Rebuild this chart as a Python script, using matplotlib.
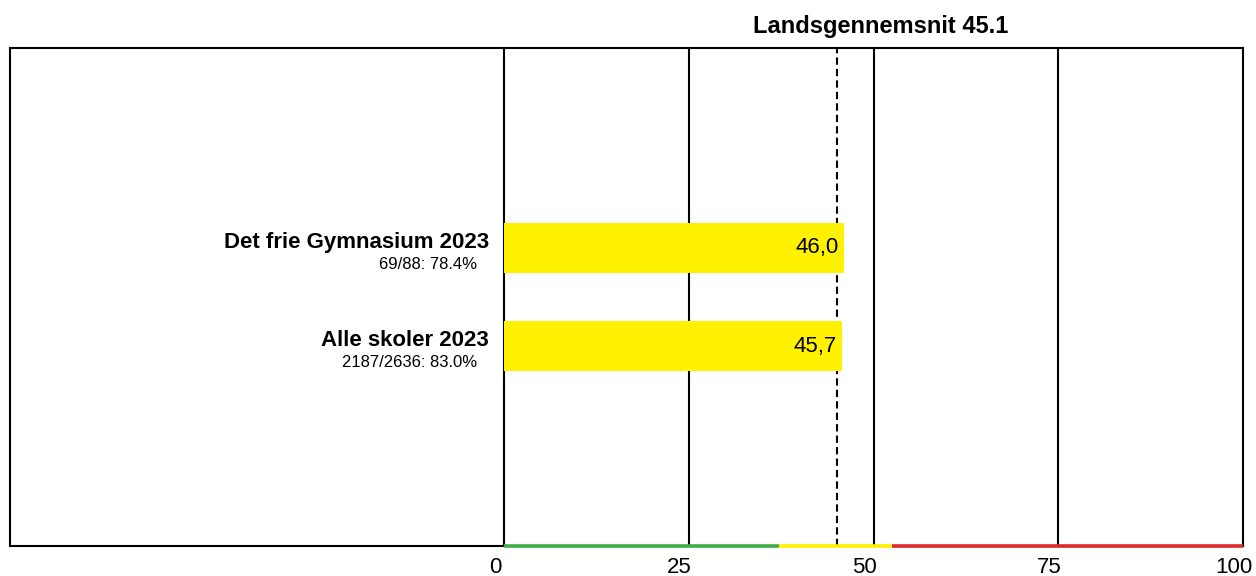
import matplotlib
matplotlib.use("Agg")
import matplotlib.pyplot as plt
from matplotlib.transforms import ScaledTranslation

plt.rcParams["font.family"] = ["Liberation Sans", "DejaVu Sans"]

# data
schools = ["Det frie Gymnasium 2023", "Alle skoler 2023"]
subtitles = ["69/88: 78.4%", "2187/2636: 83.0%"]
scores = [46.0, 45.7]
national_avg = 45.1
x_ticks = [0, 25, 50, 75, 100]
# colour bands along the bottom axis
band_edges = [0, 37.2, 52.5, 100]
band_colors = ["#3fae49", "#fff200", "#dd2a2a"]

BAR_COLOR = "#fff200"

fig = plt.figure(figsize=(12.56, 5.76), dpi=100)
W, H = 1256, 576
# axes box spans label area too (frame from x=10 to x=1243)
ax = fig.add_axes([10 / W, (H - 546) / H, 1233 / W, 498 / H])

px_per_unit = 739 / 100  # 0 at x=504, 100 at x=1243
x_left = -(504 - 10) / px_per_unit
ax.set_xlim(x_left, 100)
ax.set_ylim(3.03, -2.03)

# vertical grid lines
for t in x_ticks[:-1]:
    ax.axvline(t, color="black", lw=1.5, zorder=1)

# national average dashed line (drawn behind the bars)
ax.axvline(national_avg, color="black", lw=1.5, linestyle=(0, (3.5, 2)), zorder=1.5)

# bars
positions = list(range(len(schools)))
ax.barh(positions, scores, height=0.51, color=BAR_COLOR, zorder=2)

# labels
for pos, name, sub, val in zip(positions, schools, subtitles, scores):
    ax.text(val - 5 / px_per_unit, pos, f"{val:.1f}".replace(".", ","),
            ha="right", va="center", fontsize=16, zorder=4)
    ax.text(-15 / px_per_unit, pos, name, ha="right", va="baseline",
            fontsize=16, fontweight="bold")
    ax.text(-27 / px_per_unit, pos + 21 / 98.5, sub, ha="right", va="baseline",
            fontsize=12)

# coloured bottom band
ymax = ax.get_ylim()[0]
for x0, x1, c in zip(band_edges[:-1], band_edges[1:], band_colors):
    ax.plot([x0, x1], [ymax, ymax], color=c, lw=2.6, solid_capstyle="butt",
            clip_on=False, zorder=5)

for s in ax.spines.values():
    s.set_linewidth(1.5)
    s.set_color("black")

ax.set_yticks([])
ax.set_xticks(x_ticks)
ax.set_xticklabels([str(t) for t in x_ticks], fontsize=16)
ax.tick_params(axis="x", length=0, pad=8)
shift = ScaledTranslation(-9 / 100, 0, fig.dpi_scale_trans)
for lab in ax.get_xticklabels():
    lab.set_transform(lab.get_transform() + shift)

fig.text(881 / W, 1 - 33 / H, f"Landsgennemsnit {national_avg}", ha="center",
         va="baseline", fontsize=17, fontweight="bold")

fig.savefig("out.png", dpi=100)
